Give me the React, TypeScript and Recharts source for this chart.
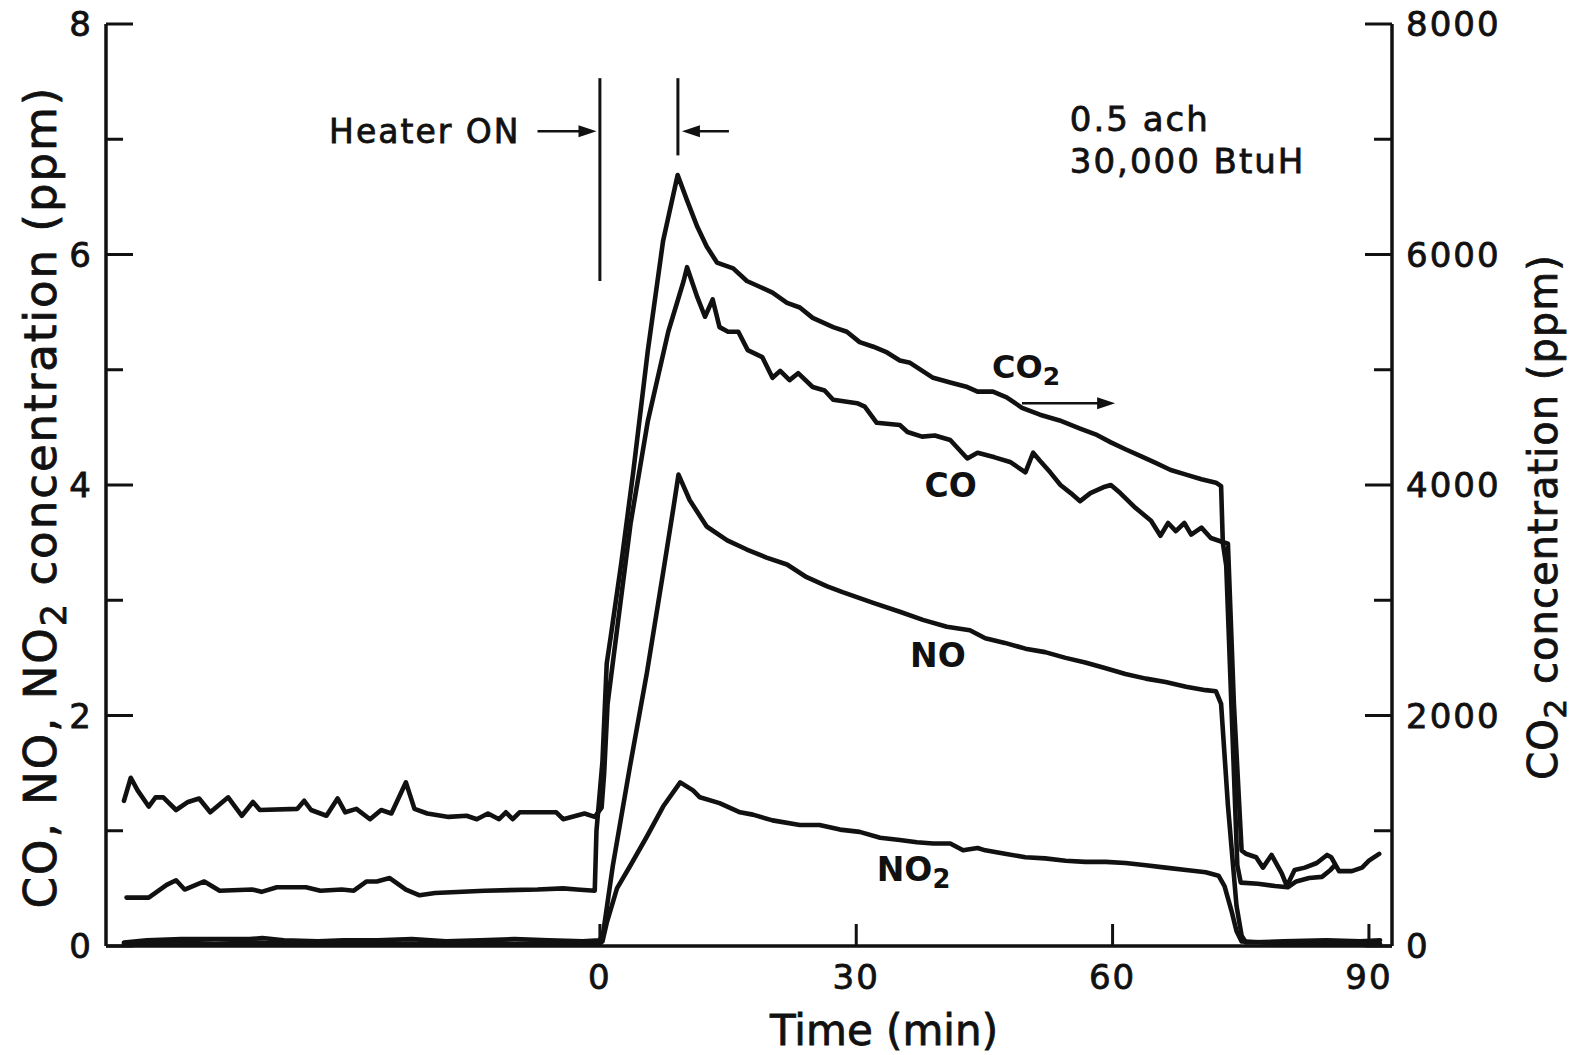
import { Line, LineChart, ReferenceDot, ReferenceLine, XAxis, YAxis } from "recharts";

const FONT = '"DejaVu Sans", sans-serif';
const INK = "#111";

// time axis (min), heater switched on at 0
const timeDomain = [-57.8, 92.7];
const timeTicks = [0, 30, 60, 90];
const ppmTicks = [0, 1, 2, 3, 4, 5, 6, 7, 8];
const co2Ticks = [0, 1000, 2000, 3000, 4000, 5000, 6000, 7000, 8000];

// CO2, right axis (ppm)
const co2Time = [
  -55.4, -52.8, -50.7, -49.6, -48.6, -46.3, -44.5, -40.7, -39.6, -37.8, -34.4, -32.7, -30.2, -28.8, -27.3,
  -26.1, -24.6, -22.7, -21.1, -19.3, -13.5, -7.3, -4.3, -2.7, -0.6, -0.4, 0.3, 0.8, 1.3, 2.5, 3.9, 5.6,
  7.4, 9.1, 10.2, 11.4, 12.5, 13.7, 15.6, 17.2, 18.7, 20.2, 21.9, 23.4, 24.9, 27.3, 28.9, 30.4, 32.0, 33.6,
  35.1, 36.3, 39.0, 41.0, 43.0, 44.2, 46.0, 47.6, 49.4, 51.5, 53.8, 56.2, 58.0, 59.8, 61.5, 63.3, 65.1,
  66.8, 68.6, 70.4, 72.1, 72.7, 72.9, 73.3, 74.6, 75.0, 77.0, 79.0, 80.5, 81.5, 83.0, 84.5, 85.5, 86.0
];
const co2Values = [
  420, 420, 530, 570, 490, 560, 480, 490, 470, 510, 510, 480, 490, 480, 560, 560, 590, 490, 440, 460, 480,
  490, 500, 490, 480, 1000, 1600, 2450, 2700, 3320, 4110, 5160, 6120, 6690, 6470, 6240, 6070, 5930, 5880,
  5770, 5720, 5670, 5580, 5540, 5450, 5370, 5330, 5240, 5200, 5150, 5080, 5060, 4930, 4890, 4850, 4810,
  4810, 4760, 4670, 4610, 4560, 4490, 4440, 4370, 4310, 4250, 4190, 4130, 4090, 4050, 4020, 3990, 3500,
  3300, 700, 550, 540, 520, 510, 560, 590, 600, 660, 700
];

// CO, left axis (ppm)
const coTime = [
  -55.7, -54.9, -54.1, -52.8, -52.0, -51.1, -49.6, -48.2, -46.9, -45.6, -43.5, -41.9, -40.6, -39.8, -35.4,
  -34.6, -33.8, -32.0, -30.7, -29.8, -28.5, -26.9, -25.6, -24.4, -22.7, -21.7, -20.2, -17.7, -15.6, -14.4,
  -13.1, -11.8, -11.0, -10.2, -9.4, -7.7, -5.1, -4.3, -1.8, -0.6, 0.2, 0.5, 0.9, 2.1, 3.6, 5.6, 8.0, 9.8,
  10.2, 11.4, 12.3, 13.2, 14.0, 15.0, 16.2, 17.3, 19.0, 20.2, 21.1, 22.2, 23.2, 24.9, 26.3, 27.3, 30.1,
  31.0, 32.4, 35.1, 36.0, 37.7, 39.2, 41.0, 43.0, 44.2, 46.2, 48.0, 49.8, 50.7, 51.5, 52.7, 53.9, 55.1,
  56.2, 57.4, 58.9, 59.8, 60.9, 62.7, 64.5, 65.6, 66.5, 67.4, 68.4, 69.2, 70.4, 71.5, 72.7, 73.5, 74.2,
  75.1, 75.6, 76.8, 77.6, 78.6, 79.8, 80.4, 81.3, 82.5, 83.9, 85.1, 85.6, 86.5, 88.0, 89.2, 90.0, 91.2
];
const coValues = [
  1.26, 1.46, 1.35, 1.21, 1.29, 1.29, 1.18, 1.25, 1.28, 1.16, 1.29, 1.13, 1.25, 1.18, 1.19, 1.26, 1.18,
  1.13, 1.28, 1.16, 1.19, 1.1, 1.18, 1.15, 1.42, 1.19, 1.15, 1.12, 1.13, 1.1, 1.15, 1.1, 1.16, 1.1, 1.16,
  1.16, 1.16, 1.1, 1.15, 1.12, 1.2, 1.5, 2.1, 2.8, 3.67, 4.55, 5.33, 5.77, 5.89, 5.63, 5.46, 5.61, 5.37,
  5.33, 5.33, 5.17, 5.11, 4.93, 4.99, 4.91, 4.97, 4.85, 4.82, 4.74, 4.71, 4.68, 4.54, 4.52, 4.46, 4.42,
  4.43, 4.39, 4.23, 4.28, 4.24, 4.2, 4.11, 4.28, 4.21, 4.11, 4.0, 3.93, 3.86, 3.93, 3.98, 4.0, 3.93, 3.8,
  3.69, 3.56, 3.67, 3.6, 3.67, 3.57, 3.63, 3.54, 3.51, 3.49, 2.1, 0.83, 0.8, 0.77, 0.68, 0.79, 0.63, 0.52,
  0.66, 0.68, 0.72, 0.79, 0.77, 0.65, 0.65, 0.68, 0.74, 0.8
];

// NO, left axis (ppm)
const noTime = [
  -55.7, -53, -49, -45, -41, -39.5, -37, -33, -30, -26, -22, -18, -14, -10, -6, -2, 0, 0.4, 1.5, 3.5, 5.5,
  7.4, 8.6, 9.2, 10.5, 12.5, 14.9, 17.2, 19.5, 21.9, 24.2, 26.6, 28.4, 31.9, 35.1, 37.8, 40.6, 43.3, 45.1,
  47.4, 49.8, 52.1, 54.5, 56.8, 59.2, 61.5, 63.9, 66.2, 68.6, 70.9, 72.1, 72.7, 73.5, 74.5, 75.1, 75.6, 80,
  85, 89, 91.3
];
const noValues = [
  0.03, 0.05, 0.06, 0.06, 0.06, 0.07, 0.05, 0.04, 0.05, 0.05, 0.06, 0.04, 0.05, 0.06, 0.05, 0.04, 0.05,
  0.12, 0.69, 1.55, 2.37, 3.24, 3.8, 4.09, 3.87, 3.64, 3.52, 3.44, 3.37, 3.31, 3.2, 3.12, 3.07, 2.98, 2.9,
  2.83, 2.77, 2.74, 2.67, 2.63, 2.58, 2.55, 2.5, 2.46, 2.41, 2.36, 2.32, 2.29, 2.25, 2.22, 2.21, 2.1, 1.22,
  0.35, 0.09, 0.03, 0.04, 0.05, 0.04, 0.05
];

// NO2, left axis (ppm)
const no2Time = [
  -55.7, -50, -45, -40, -35, -30, -25, -20, -15, -10, -5, 0, 0.3, 0.8, 2.0, 3.5, 5.5, 7.4, 9.4, 10.9, 11.7,
  14.0, 16.4, 17.9, 20.2, 23.4, 25.7, 28.1, 30.4, 32.8, 35.1, 37.1, 39.0, 41.0, 42.5, 44.2, 45.1, 47.4, 49.8,
  52.1, 54.5, 56.8, 59.2, 61.5, 63.9, 66.2, 68.6, 70.9, 72.4, 73.1, 73.9, 74.5, 75.1, 80, 85, 91.3
];
const no2Values = [
  0.02, 0.03, 0.02, 0.03, 0.02, 0.03, 0.02, 0.02, 0.03, 0.02, 0.02, 0.02, 0.04, 0.2, 0.5, 0.69, 0.95, 1.21,
  1.42, 1.35, 1.29, 1.24, 1.16, 1.14, 1.09, 1.05, 1.05, 1.01, 0.99, 0.94, 0.92, 0.9, 0.89, 0.89, 0.83, 0.85,
  0.83, 0.8, 0.77, 0.76, 0.74, 0.73, 0.73, 0.72, 0.7, 0.68, 0.66, 0.64, 0.61, 0.52, 0.31, 0.13, 0.04, 0.02,
  0.02, 0.02
];

const toPoints = (time: number[], values: number[]) => time.map((t, i) => ({ t, v: values[i] }));

const co2Data = toPoints(co2Time, co2Values);
const coData = toPoints(coTime, coValues);
const noData = toPoints(noTime, noValues);
const no2Data = toPoints(no2Time, no2Values);

// the scanned lettering is heavier than DejaVu regular, so give it a thin outline
const heavy = { stroke: INK, strokeWidth: 0.8 };
const tickText = { fontFamily: FONT, fontSize: 34, fill: INK, letterSpacing: 2, ...heavy };

function LeftTick({ x, y, payload }: any) {
  const major = payload.value % 2 === 0;
  return (
    <g>
      <line x1={x} y1={y} x2={x + (major ? 27 : 17)} y2={y} stroke={INK} strokeWidth={3} />
      {major && (
        <text x={x - 13} y={y} dy="0.36em" textAnchor="end" {...tickText}>
          {payload.value}
        </text>
      )}
    </g>
  );
}

function RightTick({ x, y, payload }: any) {
  const major = payload.value % 2000 === 0;
  return (
    <g>
      <line x1={x} y1={y} x2={x - (major ? 27 : 18)} y2={y} stroke={INK} strokeWidth={3} />
      {major && (
        <text x={x + 14} y={y} dy="0.36em" textAnchor="start" {...tickText}>
          {payload.value}
        </text>
      )}
    </g>
  );
}

function BottomTick({ x, y, payload }: any) {
  return (
    <g>
      <line x1={x} y1={y} x2={x} y2={y - 22} stroke={INK} strokeWidth={3} />
      <text x={x} y={y + 31} dy="0.36em" textAnchor="middle" {...tickText}>
        {payload.value}
      </text>
    </g>
  );
}

function TopTick({ x, y }: any) {
  return <line x1={x} y1={y} x2={x} y2={y + 28} stroke={INK} strokeWidth={3} />;
}

function arrowShape(props: any) {
  const { x1, y1, x2, y2 } = props;
  const dir = x2 > x1 ? 1 : -1;
  return (
    <g>
      <line x1={x1} y1={y1} x2={x2 - dir * 10} y2={y2} stroke={INK} strokeWidth={2.5} />
      <polygon points={`${x2},${y2} ${x2 - dir * 18},${y2 - 6} ${x2 - dir * 18},${y2 + 6}`} fill={INK} />
    </g>
  );
}

function textShape(content: React.ReactNode, size: number, bold = false, anchor = "start") {
  return (props: any) => (
    <text
      x={props.cx}
      y={props.cy}
      dy="0.36em"
      textAnchor={anchor}
      fontFamily={FONT}
      fontSize={size}
      fontWeight={bold ? "bold" : "normal"}
      fill={INK}
      letterSpacing={bold ? 0 : 2}
      {...(bold ? {} : heavy)}
    >
      {content}
    </text>
  );
}

const sub = (txt: string, base: string, size: number) => (
  <>
    {base}
    <tspan dy={size * 0.22} fontSize={size * 0.78}>
      {txt}
    </tspan>
  </>
);

function leftTitle() {
  const cx = 40;
  const cy = 497;
  return (
    <text
      x={cx}
      y={cy}
      dy="0.36em"
      textAnchor="middle"
      transform={`rotate(-90 ${cx} ${cy})`}
      fontFamily={FONT}
      fontSize={45}
      fill={INK}
      letterSpacing={2}
      {...heavy}
    >
      CO, NO, NO
      <tspan dy={10} fontSize={35}>
        2
      </tspan>
      <tspan dy={-10}> concentration (ppm)</tspan>
    </text>
  );
}

function rightTitle() {
  const cx = 1543;
  const cy = 517;
  return (
    <text
      x={cx}
      y={cy}
      dy="0.36em"
      textAnchor="middle"
      transform={`rotate(-90 ${cx} ${cy})`}
      fontFamily={FONT}
      fontSize={40}
      fill={INK}
      letterSpacing={1}
      {...heavy}
    >
      CO
      <tspan dy={9} fontSize={31}>
        2
      </tspan>
      <tspan dy={-9}> concentration (ppm)</tspan>
    </text>
  );
}

function bottomTitle() {
  return (
    <text x={884} y={1030} dy="0.36em" textAnchor="middle" fontFamily={FONT} fontSize={42} fill={INK} {...heavy}>
      Time (min)
    </text>
  );
}

export default function App() {
  const lineProps = {
    type: "linear" as const,
    dataKey: "v",
    stroke: INK,
    strokeWidth: 4.6,
    strokeLinejoin: "round" as const,
    strokeLinecap: "round" as const,
    dot: false,
    activeDot: false,
    isAnimationActive: false,
    xAxisId: "bottom"
  };
  const axisLine = { stroke: INK, strokeWidth: 3.5 };
  return (
    <div style={{ position: "absolute", left: 0, top: 0, width: 1576, height: 1055, background: "#fff" }}>
      <LineChart width={1576} height={1055} margin={{ top: 24, right: 0, bottom: 0, left: 0 }}>
        <XAxis
          xAxisId="bottom"
          dataKey="t"
          type="number"
          domain={timeDomain}
          ticks={timeTicks}
          interval={0}
          allowDataOverflow
          height={109}
          tickSize={0}
          tickMargin={0}
          tickLine={false}
          tick={BottomTick}
          axisLine={axisLine}
          label={bottomTitle}
        />
        <XAxis
          xAxisId="top"
          orientation="top"
          dataKey="t"
          type="number"
          domain={timeDomain}
          ticks={timeTicks}
          interval={0}
          allowDataOverflow
          height={0}
          tickSize={0}
          tickMargin={0}
          tickLine={false}
          tick={TopTick}
          axisLine={axisLine}
        />
        <YAxis
          yAxisId="left"
          type="number"
          domain={[0, 8]}
          ticks={ppmTicks}
          interval={0}
          allowDataOverflow
          width={106}
          tickSize={0}
          tickMargin={0}
          tickLine={false}
          tick={LeftTick}
          axisLine={axisLine}
          label={leftTitle}
        />
        <YAxis
          yAxisId="right"
          orientation="right"
          type="number"
          domain={[0, 8000]}
          ticks={co2Ticks}
          interval={0}
          allowDataOverflow
          width={184}
          tickSize={0}
          tickMargin={0}
          tickLine={false}
          tick={RightTick}
          axisLine={axisLine}
          label={rightTitle}
        />

        <Line {...lineProps} data={no2Data} yAxisId="left" name="NO2" />
        <Line {...lineProps} data={noData} yAxisId="left" name="NO" />
        <Line {...lineProps} data={coData} yAxisId="left" name="CO" />
        <Line {...lineProps} data={co2Data} yAxisId="right" name="CO2" />

        {/* heater on / peak markers */}
        <ReferenceLine
          xAxisId="bottom"
          yAxisId="left"
          segment={[{ x: 0, y: 5.77 }, { x: 0, y: 7.53 }]}
          stroke={INK}
          strokeWidth={3}
        />
        <ReferenceLine
          xAxisId="bottom"
          yAxisId="left"
          segment={[{ x: 9.13, y: 6.86 }, { x: 9.13, y: 7.53 }]}
          stroke={INK}
          strokeWidth={3}
        />
        <ReferenceLine
          xAxisId="bottom"
          yAxisId="left"
          segment={[{ x: -7.3, y: 7.07 }, { x: -0.4, y: 7.07 }]}
          shape={arrowShape}
        />
        <ReferenceLine
          xAxisId="bottom"
          yAxisId="left"
          segment={[{ x: 15.1, y: 7.07 }, { x: 9.6, y: 7.07 }]}
          shape={arrowShape}
        />
        <ReferenceLine
          xAxisId="bottom"
          yAxisId="left"
          segment={[{ x: 49.4, y: 4.71 }, { x: 60.3, y: 4.71 }]}
          shape={arrowShape}
        />

        <ReferenceDot xAxisId="bottom" yAxisId="left" x={-9.3} y={7.07} r={0} shape={textShape("Heater ON", 33, false, "end")} />
        <ReferenceDot xAxisId="bottom" yAxisId="left" x={55.0} y={7.18} r={0} shape={textShape("0.5 ach", 34)} />
        <ReferenceDot xAxisId="bottom" yAxisId="left" x={55.0} y={6.81} r={0} shape={textShape("30,000 BtuH", 34)} />
        <ReferenceDot xAxisId="bottom" yAxisId="left" x={45.9} y={5.03} r={0} shape={textShape(sub("2", "CO", 32), 32, true)} />
        <ReferenceDot xAxisId="bottom" yAxisId="left" x={38.0} y={4.0} r={0} shape={textShape("CO", 33, true)} />
        <ReferenceDot xAxisId="bottom" yAxisId="left" x={36.3} y={2.52} r={0} shape={textShape("NO", 33, true)} />
        <ReferenceDot xAxisId="bottom" yAxisId="left" x={32.4} y={0.67} r={0} shape={textShape(sub("2", "NO", 33), 33, true)} />
      </LineChart>
    </div>
  );
}
